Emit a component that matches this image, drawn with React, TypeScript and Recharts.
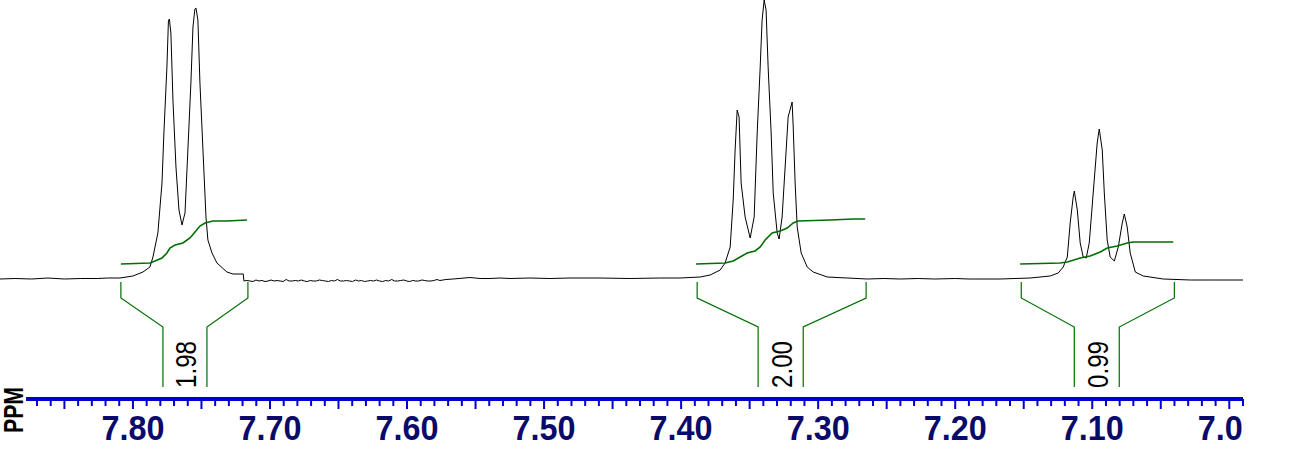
import React from 'react';
import { ComposedChart, Line, XAxis, YAxis, ReferenceLine, Scatter } from 'recharts';

type Pt = [number, number];

// chemical shift (ppm), intensity in arbitrary units (0 = baseline)
const baselineLeft: Pt[] = [
  [7.897, 0], [7.886, 0.5], [7.874, 0], [7.862, 1], [7.85, 0], [7.838, 0.5], [7.826, 0.5], [7.818, 1],
];

const peaksA: Pt[] = [
  [7.8095, 1], [7.8, 3], [7.7927, 7], [7.7876, 12], [7.7854, 22], [7.7818, 46], [7.7788, 96],
  [7.7774, 146], [7.7752, 212], [7.7741, 258], [7.7734, 260], [7.7723, 246], [7.7708, 179],
  [7.7686, 112], [7.7664, 69], [7.7642, 54], [7.762, 66], [7.7599, 129], [7.7577, 196],
  [7.7562, 252], [7.7548, 270], [7.754, 271], [7.7526, 259], [7.7511, 196], [7.7489, 129],
  [7.7467, 62], [7.7453, 39], [7.7423, 26], [7.7387, 16], [7.7314, 7], [7.727, 5], [7.7195, 5],
  [7.719, -2],
];

// noisy stretch right of the first multiplet
const noiseStart = 7.719;
const noiseStep = 0.0022;
const noise = [
  -2, -1.5, -2, -2.5, -1, -2, -1.5, -2.5, -2, -1, -2, -1.5, -2, -2.5, -0.5, -2, -2, -1.5, -2, -1,
  -2, -2.5, -1.5, -2, -2, -1, -1.5, -2, -2.5, -1.5, -2, -0.5, -2, -2, -1.5, -2, -2.5, -1, -2, -1.5,
  -2.5, -2, -1.5, -2, -1, -2, -2.5, -1.5, -2, -0.5, -2, -2, -1.5, -1, -2, -2.5, -1.5, -2, -2, -1,
  -1.5, -2, -2, -1.5, -0.5, -1.5, -1, -0.5,
];

const baselineMid: Pt[] = [
  [7.5664, 0], [7.554, 1.5], [7.5467, 0.5], [7.5394, 0.5], [7.5321, 1], [7.5248, 0.5],
  [7.5102, 1], [7.4956, 0.5], [7.481, 1], [7.4591, 1], [7.4372, 0.5], [7.4153, 1], [7.4007, 1],
];

const peaksB: Pt[] = [
  [7.3861, 2], [7.3788, 4], [7.3715, 9], [7.3679, 16], [7.3642, 32], [7.362, 79], [7.3606, 129],
  [7.3591, 169], [7.3577, 162], [7.3562, 96], [7.3533, 62], [7.3496, 41], [7.3467, 62],
  [7.3445, 146], [7.3423, 212], [7.3409, 259], [7.3394, 279], [7.338, 269], [7.3365, 212],
  [7.3343, 146], [7.3328, 86], [7.3299, 46], [7.3285, 40], [7.3263, 62], [7.3241, 112],
  [7.3219, 162], [7.319, 177], [7.3182, 152], [7.3168, 96], [7.3153, 52], [7.3124, 26],
  [7.308, 12], [7.3036, 7], [7.2934, 2], [7.2788, 1], [7.2642, 0],
];

const baselineB: Pt[] = [
  [7.252, 0.5], [7.24, 0], [7.227, 0.5], [7.215, 0], [7.2, 0.5], [7.19, 0], [7.1672, 0],
];

const peaksC: Pt[] = [
  [7.1453, 1], [7.1307, 3], [7.1248, 6], [7.1212, 12], [7.1182, 22], [7.1161, 56], [7.1139, 82],
  [7.1131, 88], [7.1109, 69], [7.1088, 36], [7.1066, 22], [7.1044, 21], [7.1022, 36],
  [7.0993, 86], [7.0964, 136], [7.0949, 150], [7.0927, 129], [7.0912, 86], [7.0891, 39],
  [7.0869, 22], [7.0839, 18], [7.081, 32], [7.0781, 56], [7.0766, 65], [7.0745, 52],
  [7.0723, 26], [7.0686, 7], [7.0628, 3], [7.0482, 0],
];

const baselineRight: Pt[] = [[7.0285, -1], [7.012, -1], [6.99, -1]];

// integral traces
const integralA: Pt[] = [
  [7.8088, 15], [7.7876, 16], [7.7839, 18], [7.7788, 21], [7.7752, 26], [7.773, 31], [7.7693, 34],
  [7.7635, 36], [7.7584, 41], [7.7547, 47], [7.7511, 53], [7.7474, 56], [7.7416, 58],
  [7.7314, 58], [7.7168, 59],
];
const integralB: Pt[] = [
  [7.3891, 15], [7.3679, 16], [7.362, 18], [7.3569, 22], [7.3518, 26], [7.346, 28], [7.3423, 32],
  [7.3387, 39], [7.3336, 46], [7.3277, 48], [7.3226, 51], [7.3182, 56], [7.3146, 58],
  [7.2912, 59], [7.2745, 60], [7.2657, 60],
];
const integralC: Pt[] = [
  [7.1526, 15], [7.1234, 16], [7.1182, 17], [7.1088, 21], [7.1015, 23], [7.0942, 27],
  [7.0891, 31], [7.0818, 33], [7.0745, 36], [7.0701, 37], [7.0409, 37],
];

const regions = [
  { from: 7.8088, to: 7.7161, innerFrom: 7.7781, innerTo: 7.746, label: '1.98' },
  { from: 7.3883, to: 7.265, innerFrom: 7.3438, innerTo: 7.3109, label: '2.00' },
  { from: 7.1518, to: 7.0401, innerFrom: 7.1131, innerTo: 7.0803, label: '0.99' },
];

const axisLabels = ['7.80', '7.70', '7.60', '7.50', '7.40', '7.30', '7.20', '7.10', '7.00'];

const W = 1294;
const H = 457;
const AXIS_Y = 399;
const CLIP_RIGHT = 1243.5;
const BLUE = '#0000cc';
const NAVY = '#0a0a6a';
const GREEN = '#006e00';
const FONT = '"Liberation Sans", Arial, sans-serif';

const rows = (pts: Pt[]) => pts.map(([ppm, v]) => ({ ppm, v }));

const spectrum = rows([
  ...baselineLeft,
  ...peaksA,
  ...noise.map((v, i) => [noiseStart - i * noiseStep, v] as Pt),
  ...baselineMid,
  ...peaksB,
  ...baselineB,
  ...peaksC,
  ...baselineRight,
]);

const ticks: number[] = [];
for (let i = 787; i >= 699; i--) ticks.push(i / 100);

function PpmTick({ x, payload }: any) {
  const hundredths = Math.round(payload.value * 100);
  const major = hundredths % 5 === 0;
  const text = axisLabels.find((l) => Math.round(parseFloat(l) * 100) === hundredths);
  const label = text ? (
    <text
      x={x}
      y={440}
      textAnchor="middle"
      fill={NAVY}
      fontFamily={FONT}
      fontWeight="bold"
      fontSize={35}
      textLength={63}
      lengthAdjust="spacingAndGlyphs"
    >
      {text}
    </text>
  ) : null;
  // the last label runs past the end of the axis and is cut there
  const clipped = label && x + 32 > CLIP_RIGHT;
  return (
    <g>
      <line x1={x} x2={x} y1={AXIS_Y} y2={AXIS_Y + (major ? 10 : 7)} stroke={BLUE} strokeWidth={2} />
      {clipped ? (
        <svg x={0} y={0} width={CLIP_RIGHT} height={H} overflow="hidden">
          {label}
        </svg>
      ) : (
        label
      )}
    </g>
  );
}

const IntegralLabel = (props: any) => {
  const { cx, cy, payload } = props;
  const bx = cx + 11;
  return (
    <text
      x={bx}
      y={cy}
      transform={`rotate(-90 ${bx} ${cy})`}
      fill="#000"
      fontFamily={FONT}
      fontSize={30}
      textLength={47}
      lengthAdjust="spacingAndGlyphs"
    >
      {payload.label}
    </text>
  );
};

const PpmTitle = () => (
  <text
    x={23}
    y={433}
    transform="rotate(-90 23 433)"
    fill="#000"
    fontFamily={FONT}
    fontWeight="bold"
    fontSize={27}
    textLength={46}
    lengthAdjust="spacingAndGlyphs"
  >
    PPM
  </text>
);

export default function App() {
  return (
    <div style={{ position: 'absolute', left: 0, top: 0, background: '#fff' }}>
      <ComposedChart width={W} height={H} margin={{ top: 0, right: W - CLIP_RIGHT + 0.5, bottom: 0, left: 0 }}>
        <XAxis
          type="number"
          dataKey="ppm"
          domain={[6.99, 7.897]}
          reversed
          allowDataOverflow
          ticks={ticks}
          interval={0}
          tick={(p: any) => <PpmTick {...p} />}
          tickLine={false}
          axisLine={false}
          height={H - AXIS_Y}
          label={{ content: () => <PpmTitle /> }}
        />
        <YAxis type="number" dataKey="v" domain={[-120, 279]} allowDataOverflow hide />
        <ReferenceLine
          segment={[{ x: 7.878, y: -120 }, { x: 6.99, y: -120 }]}
          stroke={BLUE}
          strokeWidth={4}
          ifOverflow="visible"
        />
        <Line
          data={spectrum}
          dataKey="v"
          type="linear"
          stroke="#000"
          strokeWidth={1}
          dot={false}
          activeDot={false}
          isAnimationActive={false}
        />
        {[integralA, integralB, integralC].map((curve, i) => (
          <Line
            key={`int${i}`}
            data={rows(curve)}
            dataKey="v"
            type="linear"
            stroke={GREEN}
            strokeWidth={1.6}
            dot={false}
            activeDot={false}
            isAnimationActive={false}
          />
        ))}
        {regions.map((r, i) => (
          <Line
            key={`bl${i}`}
            data={rows([[r.from, -3], [r.from, -19], [r.innerFrom, -48], [r.innerFrom, -108]])}
            dataKey="v"
            type="linear"
            stroke={GREEN}
            strokeWidth={1.2}
            dot={false}
            activeDot={false}
            isAnimationActive={false}
          />
        ))}
        {regions.map((r, i) => (
          <Line
            key={`br${i}`}
            data={rows([[r.to, -3], [r.to, -19], [r.innerTo, -48], [r.innerTo, -108]])}
            dataKey="v"
            type="linear"
            stroke={GREEN}
            strokeWidth={1.2}
            dot={false}
            activeDot={false}
            isAnimationActive={false}
          />
        ))}
        <Scatter
          data={regions.map((r) => ({ ppm: (r.innerFrom + r.innerTo) / 2, v: -109, label: r.label }))}
          dataKey="v"
          shape={IntegralLabel}
          activeShape={IntegralLabel}
          isAnimationActive={false}
        />
      </ComposedChart>
    </div>
  );
}
